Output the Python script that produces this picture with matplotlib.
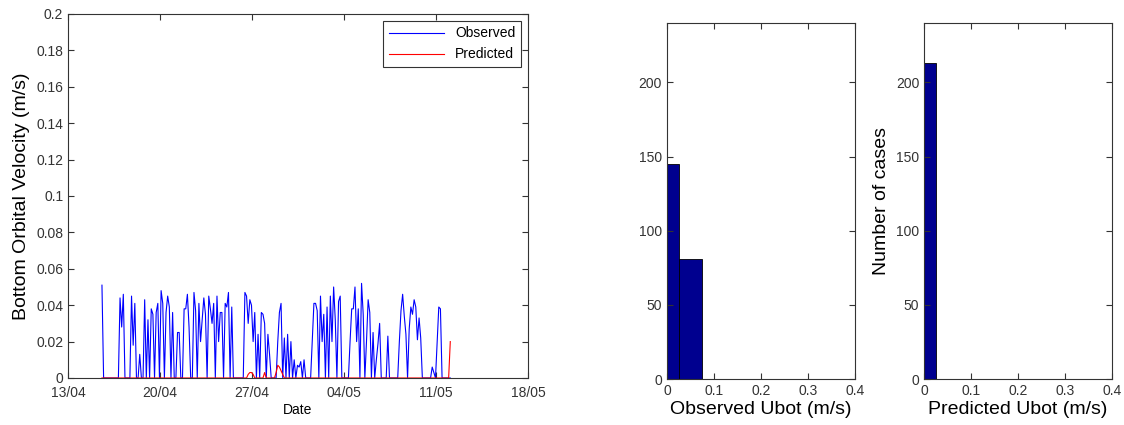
import numpy as np
import pandas as pd
import matplotlib
matplotlib.use('Agg')
import matplotlib.pyplot as plt
import matplotlib.dates as mdates
from matplotlib.ticker import FixedLocator, FuncFormatter

# 觀測與預測的底部軌道速度 (m/s)，每 3 小時一筆
observed = [
    0.051, 0, 0, 0, 0, 0, 0, 0, 0, 0,
    0, 0.044, 0.028, 0.046, 0, 0, 0, 0, 0.045, 0.018,
    0.041, 0, 0, 0.013, 0, 0, 0.043, 0, 0.032, 0,
    0.038, 0.035, 0, 0.036, 0.041, 0, 0.048, 0.041, 0, 0.036,
    0.045, 0.039, 0, 0.036, 0, 0, 0.025, 0.025, 0, 0,
    0.038, 0.038, 0.046, 0.028, 0, 0, 0.047, 0.037, 0, 0.041,
    0.020, 0.032, 0.044, 0.035, 0, 0.045, 0.038, 0.030, 0.041, 0,
    0.045, 0.020, 0.036, 0.036, 0, 0.041, 0.039, 0.047, 0, 0.039,
    0, 0, 0, 0, 0, 0, 0, 0.047, 0.045, 0.030,
    0.043, 0.040, 0.020, 0.036, 0, 0.024, 0, 0.036, 0.035, 0.030,
    0, 0.024, 0.013, 0, 0, 0, 0, 0.020, 0.036, 0.041,
    0, 0.022, 0, 0.024, 0, 0.020, 0, 0.010, 0, 0.007,
    0.006, 0.009, 0, 0.010, 0, 0, 0, 0, 0.020, 0.041,
    0.041, 0.037, 0, 0.045, 0.020, 0.035, 0, 0.039, 0, 0.045,
    0.020, 0.050, 0.032, 0, 0.042, 0.045, 0, 0, 0, 0,
    0, 0.020, 0.038, 0.038, 0.050, 0.020, 0.038, 0, 0.052, 0.035,
    0, 0.020, 0.043, 0.036, 0, 0.025, 0, 0.010, 0.019, 0.030,
    0, 0, 0, 0, 0.023, 0, 0, 0, 0, 0,
    0, 0.020, 0.037, 0.046, 0.034, 0.024, 0, 0.027, 0.039, 0.035,
    0.043, 0.039, 0.021, 0.033, 0.022, 0, 0, 0, 0, 0,
    0, 0.006, 0.003, 0, 0.020, 0.039, 0.038, 0, 0, 0,
    0, 0, 0,
]
predicted = [0.0] * 213
for k, v in {89: 0.002, 90: 0.003, 91: 0.003, 92: 0.002, 99: 0.003,
             106: 0.003, 107: 0.007, 108: 0.006, 109: 0.004, 110: 0.002,
             212: 0.020}.items():
    predicted[k] = v

dates = pd.date_range('2013-04-15 14:00', periods=len(observed), freq='3h')

# 直方圖（每 0.05 m/s 一格）
bin_centers = [0.0, 0.05]
obs_counts = [145, 81]
pred_centers = [0.0]
pred_counts = [213]

plt.rcParams['font.family'] = ['Liberation Sans', 'DejaVu Sans']

fig = plt.figure(figsize=(11.24, 4.25), dpi=100)
ax1 = fig.add_axes([0.0605, 0.1106, 0.4093, 0.8565])
ax2 = fig.add_axes([0.5934, 0.1082, 0.1673, 0.8376])
ax3 = fig.add_axes([0.8221, 0.1082, 0.1673, 0.8376])

ax1.plot(dates, observed, color='blue', linewidth=0.8, label='Observed')
ax1.plot(dates, predicted, color='red', linewidth=0.8, label='Predicted')
ax1.set_xlim(pd.Timestamp('2013-04-13'), pd.Timestamp('2013-05-18'))
ax1.set_ylim(0, 0.2)
ax1.set_xticks(pd.date_range('2013-04-13', '2013-05-18', freq='7D'))
ax1.xaxis.set_major_formatter(mdates.DateFormatter('%d/%m'))
ax1.yaxis.set_major_locator(FixedLocator(np.arange(0, 0.201, 0.02)))
ax1.yaxis.set_major_formatter(FuncFormatter(lambda v, p: '%g' % round(v, 2)))
ax1.set_xlabel('Date', fontsize=10, labelpad=2)
ax1.set_ylabel('Bottom Orbital Velocity (m/s)', fontsize=14)
leg = ax1.legend(loc='upper right', fontsize=10, frameon=True, fancybox=False,
                 edgecolor='black', handlelength=4, borderaxespad=0.5)
leg.get_frame().set_linewidth(0.8)

for ax, centers, counts, xl in [(ax2, bin_centers, obs_counts, 'Observed Ubot (m/s)'),
                                (ax3, pred_centers, pred_counts, 'Predicted Ubot (m/s)')]:
    ax.bar(centers, counts, width=0.05, color='#00008F', edgecolor='black', linewidth=0.6)
    ax.set_xlim(0, 0.4)
    ax.set_ylim(0, 240)
    ax.set_xticks([0, 0.1, 0.2, 0.3, 0.4])
    ax.xaxis.set_major_formatter(FuncFormatter(lambda v, p: '%g' % round(v, 2)))
    ax.set_yticks([0, 50, 100, 150, 200])
    ax.set_xlabel(xl, fontsize=14, labelpad=2)
ax3.set_ylabel('Number of cases', fontsize=14)

for ax in (ax1, ax2, ax3):
    ax.tick_params(direction='in', top=True, right=True, length=4, labelsize=10,
                   colors='#333333', labelcolor='#333333')
    for s in ax.spines.values():
        s.set_linewidth(0.8)
        s.set_color('#333333')
ax1.tick_params(axis='x', pad=6)

fig.savefig('out.png', dpi=100)
